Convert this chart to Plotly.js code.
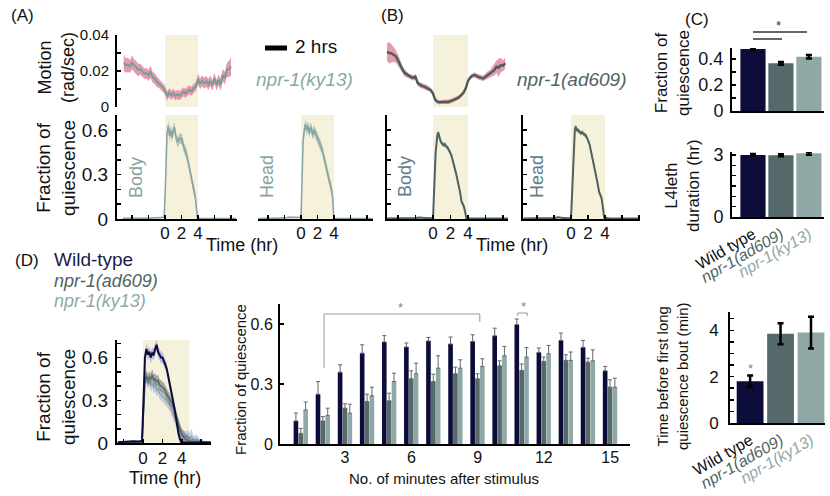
<!DOCTYPE html>
<html><head><meta charset="utf-8">
<script src="https://cdn.plot.ly/plotly-3.0.1.min.js"></script>
<style>body{margin:0;background:#fff}#chart{width:830px;height:496px}</style>
</head><body><div id="chart"></div>
<script>
// ---------- DATA ----------
// (A) motion, npr-1(ky13)
const motionA_t = [-5,-4.75,-4.5,-4.25,-4,-3.75,-3.5,-3.25,-3,-2.75,-2.5,-2.25,-2,-1.75,-1.5,-1.25,-1,-0.75,-0.5,-0.25,0,0.25,0.5,0.75,1,1.25,1.5,1.75,2,2.25,2.5,2.75,3,3.25,3.5,3.75,4,4.25,4.5,4.75,5,5.25,5.5,5.75,6,6.25,6.5,6.75,7,7.25,7.5,7.75,8];
const motionA_mean = [0.0245,0.0230,0.0235,0.0225,0.0248,0.0230,0.0222,0.0205,0.0210,0.0195,0.0185,0.0187,0.0175,0.0196,0.0165,0.0158,0.0140,0.0132,0.0120,0.0106,0.0095,0.0060,0.0080,0.0065,0.0076,0.0062,0.0070,0.0063,0.0072,0.0085,0.0075,0.0090,0.0094,0.0088,0.0105,0.0112,0.0155,0.0130,0.0145,0.0132,0.0142,0.0125,0.0145,0.0120,0.0160,0.0122,0.0150,0.0125,0.0178,0.0160,0.0206,0.0210,0.0225];
const motionA_sem = [0.0045,0.004,0.004,0.0035,0.004,0.0035,0.0035,0.0035,0.003,0.003,0.003,0.003,0.003,0.0035,0.003,0.003,0.003,0.0025,0.0025,0.0025,0.0025,0.0025,0.0025,0.0025,0.0025,0.0025,0.0025,0.0025,0.0025,0.0025,0.0025,0.0025,0.0025,0.0025,0.0025,0.0025,0.003,0.003,0.003,0.003,0.003,0.003,0.003,0.003,0.003,0.003,0.003,0.0035,0.0035,0.0035,0.004,0.0045,0.005];
// (B) motion, npr-1(ad609)
const motionB_t = [-5.25,-5,-4.75,-4.5,-4.25,-4,-3.75,-3.5,-3.25,-3,-2.75,-2.5,-2.25,-2,-1.75,-1.5,-1.25,-1,-0.75,-0.5,-0.25,0,0.25,0.5,0.75,1,1.25,1.5,1.75,2,2.25,2.5,2.75,3,3.25,3.5,3.75,4,4.25,4.5,4.75,5,5.25,5.5,5.75,6,6.25,6.5,6.75,7,7.25,7.5,7.75,8,8.25];
const motionB_mean = [0.0307,0.0300,0.0298,0.0290,0.0282,0.0260,0.0233,0.0210,0.0190,0.0182,0.0170,0.0166,0.0162,0.0168,0.0132,0.0124,0.0117,0.0113,0.0108,0.0102,0.0094,0.0075,0.0040,0.0030,0.0026,0.0028,0.0027,0.0029,0.0028,0.0032,0.0036,0.0042,0.0048,0.0055,0.0066,0.0080,0.0105,0.0145,0.0163,0.0174,0.0178,0.0170,0.0166,0.0162,0.0159,0.0168,0.0178,0.0184,0.0196,0.0205,0.0224,0.0218,0.0233,0.0230,0.0243];
const motionB_sem = [0.005,0.006,0.005,0.004,0.0035,0.003,0.0025,0.002,0.002,0.0018,0.0015,0.0015,0.0015,0.0015,0.0015,0.0015,0.0015,0.0015,0.0015,0.0015,0.0012,0.0012,0.0012,0.0012,0.0012,0.0012,0.0012,0.0012,0.0012,0.0012,0.0012,0.0012,0.0012,0.0012,0.0012,0.0012,0.0012,0.0012,0.0012,0.0012,0.0015,0.0015,0.0015,0.0015,0.0015,0.0018,0.002,0.002,0.0025,0.003,0.0035,0.005,0.004,0.003,0.003];
// (A) quiescence, body / head
const bodyA_t = [-5.1,-4,-3,-2,-1,-0.5,-0.1,0.1,0.25,0.4,0.55,0.7,0.85,1.0,1.15,1.3,1.45,1.6,1.75,1.9,2.05,2.2,2.35,2.5,2.65,2.8,2.95,3.1,3.25,3.4,3.55,3.7,3.85,3.95,4.5,5.5,6.5,7.5,8.6];
const bodyA_mean = [0.005,0.004,0.006,0.005,0.008,0.01,0.012,0.3,0.58,0.63,0.56,0.6,0.55,0.6,0.62,0.56,0.53,0.52,0.55,0.54,0.54,0.5,0.48,0.45,0.43,0.39,0.35,0.31,0.27,0.22,0.18,0.14,0.05,0.005,0.003,0.003,0.004,0.003,0.003];
const bodyA_sem = [0.004,0.004,0.004,0.004,0.004,0.004,0.004,0.03,0.035,0.035,0.035,0.035,0.035,0.035,0.035,0.035,0.035,0.035,0.035,0.035,0.035,0.035,0.035,0.035,0.035,0.035,0.035,0.035,0.035,0.035,0.035,0.035,0.035,0.01,0.003,0.003,0.003,0.003,0.003];
const headA_t = [-5.2,-4,-3,-2,-1.5,-1,-0.5,0,0.1,0.25,0.4,0.55,0.7,0.85,1.0,1.15,1.3,1.45,1.6,1.75,1.9,2.05,2.2,2.35,2.5,2.65,2.8,2.95,3.1,3.25,3.4,3.55,3.7,3.85,3.95,4.05,5,6,7,8.7];
const headA_mean = [0.003,0.004,0.003,0.006,0.012,0.01,0.008,0.01,0.2,0.52,0.6,0.64,0.6,0.63,0.58,0.62,0.6,0.57,0.6,0.58,0.56,0.55,0.52,0.5,0.48,0.45,0.41,0.37,0.34,0.3,0.27,0.23,0.2,0.14,0.03,0.004,0.003,0.004,0.003,0.003];
const headA_sem = [0.004,0.004,0.004,0.004,0.004,0.004,0.004,0.004,0.03,0.035,0.035,0.035,0.035,0.035,0.035,0.035,0.035,0.035,0.035,0.035,0.035,0.035,0.035,0.035,0.035,0.035,0.035,0.035,0.035,0.035,0.035,0.035,0.035,0.035,0.01,0.003,0.003,0.003,0.003,0.003];
// (B) quiescence, body / head
const bodyB_t = [-5.25,-4,-3,-2,-1.6,-1.3,-1,-0.5,0,0.1,0.3,0.5,0.6,0.75,0.9,1.05,1.2,1.35,1.5,1.65,1.8,1.95,2.1,2.3,2.5,2.7,2.9,3.1,3.25,3.4,3.55,3.7,3.8,4.5,6,7,8.55];
const bodyB_mean = [0.003,0.004,0.003,0.006,0.01,0.008,0.006,0.005,0.006,0.15,0.45,0.57,0.585,0.55,0.52,0.51,0.5,0.505,0.49,0.485,0.47,0.45,0.43,0.39,0.34,0.29,0.24,0.18,0.12,0.1,0.08,0.04,0.005,0.003,0.003,0.004,0.003];
const bodyB_sem = [0.003,0.003,0.003,0.003,0.003,0.003,0.003,0.003,0.003,0.015,0.015,0.015,0.015,0.015,0.015,0.015,0.015,0.015,0.015,0.015,0.015,0.015,0.015,0.015,0.015,0.015,0.015,0.015,0.015,0.015,0.015,0.015,0.005,0.003,0.003,0.003,0.003];
const headB_t = [-5.6,-4,-3,-2,-1.4,-1.2,-0.5,0,0.15,0.3,0.45,0.55,0.7,0.85,1.0,1.15,1.3,1.45,1.6,1.75,1.9,2.05,2.2,2.35,2.5,2.7,2.9,3.1,3.3,3.45,3.6,3.75,3.9,4.5,6,8.1];
const headB_mean = [0.003,0.003,0.004,0.006,0.012,0.008,0.005,0.006,0.2,0.45,0.6,0.625,0.6,0.6,0.59,0.58,0.585,0.575,0.57,0.565,0.55,0.525,0.5,0.46,0.42,0.37,0.32,0.25,0.185,0.16,0.14,0.08,0.01,0.003,0.003,0.003];
const headB_sem = [0.003,0.003,0.003,0.003,0.003,0.003,0.003,0.003,0.015,0.015,0.015,0.015,0.015,0.015,0.015,0.015,0.015,0.015,0.015,0.015,0.015,0.015,0.015,0.015,0.015,0.015,0.015,0.015,0.015,0.015,0.015,0.015,0.005,0.003,0.003,0.003];
// (C) bar charts
const strains = ['Wild type','npr-1(ad609)','npr-1(ky13)'];
const fracQ = [0.477,0.367,0.418];
const fracQ_err = [0.006,0.011,0.014];
const l4leth = [3.0,2.98,3.08];
const l4leth_err = [0.04,0.05,0.07];
const firstBout = [1.8,3.85,3.9];
const firstBout_err = [0.25,0.45,0.68];
// (D) time course
const dWT_t = [-2.6,-2,-1.5,-1,-0.5,-0.1,0.05,0.2,0.35,0.5,0.65,0.8,0.95,1.1,1.25,1.4,1.55,1.7,1.85,2.0,2.15,2.3,2.45,2.6,2.75,2.9,3.05,3.2,3.35,3.5,3.65,3.8,3.95,4.5,5.5,7];
const dWT_mean = [0.005,0.008,0.01,0.012,0.01,0.015,0.3,0.6,0.66,0.62,0.64,0.6,0.63,0.62,0.66,0.69,0.64,0.62,0.6,0.6,0.58,0.55,0.52,0.47,0.42,0.38,0.33,0.26,0.2,0.12,0.07,0.03,0.005,0.003,0.003,0.003];
const dWT_sem = [0.005,0.005,0.005,0.005,0.005,0.005,0.03,0.04,0.04,0.04,0.04,0.04,0.04,0.04,0.04,0.04,0.04,0.04,0.04,0.04,0.04,0.04,0.04,0.04,0.04,0.04,0.04,0.04,0.04,0.04,0.04,0.04,0.01,0.003,0.003,0.003];
const dAD_t = [-2.6,-1,-0.1,0.05,0.2,0.35,0.5,0.65,0.8,0.95,1.1,1.25,1.4,1.55,1.7,1.85,2.0,2.2,2.4,2.6,2.8,3.0,3.2,3.4,3.6,3.8,4.0,4.2,4.4,4.6,4.8,5.0,5.5,6,7];
const dAD_mean = [0.003,0.005,0.006,0.2,0.42,0.47,0.44,0.46,0.45,0.48,0.44,0.45,0.43,0.44,0.41,0.4,0.39,0.38,0.35,0.32,0.3,0.28,0.24,0.19,0.15,0.1,0.06,0.04,0.025,0.02,0.015,0.01,0.008,0.006,0.004];
const dAD_sem = [0.004,0.004,0.004,0.03,0.04,0.04,0.04,0.04,0.04,0.04,0.04,0.04,0.04,0.04,0.04,0.04,0.04,0.04,0.04,0.04,0.04,0.04,0.04,0.04,0.04,0.04,0.04,0.04,0.04,0.04,0.02,0.02,0.015,0.01,0.005];
const dKY_t = [-2.6,-1,-0.1,0.05,0.2,0.35,0.5,0.65,0.8,0.95,1.1,1.25,1.4,1.55,1.7,1.85,2.0,2.2,2.4,2.6,2.8,3.0,3.2,3.4,3.6,3.8,4.0,4.2,4.4,4.6,4.8,5.0,5.2,5.5,6,7];
const dKY_mean = [0.003,0.006,0.008,0.25,0.5,0.46,0.42,0.44,0.4,0.42,0.39,0.4,0.37,0.38,0.35,0.34,0.33,0.31,0.3,0.28,0.26,0.22,0.19,0.16,0.12,0.08,0.06,0.05,0.04,0.05,0.03,0.05,0.02,0.03,0.01,0.005];
const dKY_sem = [0.004,0.004,0.004,0.03,0.04,0.04,0.04,0.04,0.04,0.04,0.04,0.04,0.04,0.04,0.04,0.04,0.04,0.04,0.04,0.04,0.04,0.04,0.04,0.04,0.04,0.04,0.04,0.04,0.04,0.04,0.04,0.05,0.03,0.03,0.01,0.005];
// (D) per-minute bars
const minutes = [1,2,3,4,5,6,7,8,9,10,11,12,13,14,15];
const minWT = [0.115,0.249,0.359,0.454,0.51,0.485,0.515,0.5,0.513,0.541,0.597,0.458,0.518,0.483,0.366];
const minWT_err = [0.04,0.063,0.037,0.042,0.032,0.02,0.018,0.035,0.033,0.038,0.028,0.022,0.037,0.035,0.022];
const minAD = [0.053,0.115,0.179,0.212,0.216,0.326,0.312,0.351,0.326,0.391,0.368,0.413,0.418,0.409,0.284];
const minAD_err = [0.025,0.022,0.022,0.037,0.038,0.04,0.037,0.033,0.025,0.025,0.032,0.022,0.028,0.02,0.037];
const minKY = [0.17,0.142,0.154,0.241,0.312,0.351,0.379,0.379,0.388,0.441,0.434,0.451,0.418,0.416,0.284];
const minKY_err = [0.04,0.037,0.045,0.043,0.042,0.053,0.062,0.042,0.038,0.047,0.048,0.042,0.042,0.055,0.045];

// ---------- HELPERS ----------
const W = 830, H = 496;
const FONT = 'Liberation Sans, Arial, Helvetica, sans-serif';
const dx = (a,b) => [a/W, b/W];
const dy = (top,bot) => [1-bot/H, 1-top/H];
const px = x => x/W, py = y => 1-y/H;
const C_WT = '#0c0c3a', C_AD = '#55686a', C_KY = '#8fa8a6';
const SHADE = '#f6f1da';

function band(t, m, s, fill, xa, ya) {
  const up = m.map((v,i)=>v+s[i]);
  const lo = m.map((v,i)=>Math.max(0, v-s[i]));
  return [
    {x:t, y:up, xaxis:xa, yaxis:ya, mode:'lines', line:{width:0,color:fill}, hoverinfo:'skip'},
    {x:t, y:lo, xaxis:xa, yaxis:ya, mode:'lines', line:{width:0,color:fill}, fill:'tonexty', fillcolor:fill, hoverinfo:'skip'}
  ];
}
function line(t, m, color, w, xa, ya) {
  return {x:t, y:m, xaxis:xa, yaxis:ya, mode:'lines', line:{color:color, width:w}};
}

const traces = [];
traces.push(...band(motionA_t, motionA_mean, motionA_sem, 'rgba(226,138,158,0.85)', 'x', 'y'));
traces.push(line(motionA_t, motionA_mean, '#789c9a', 2, 'x', 'y'));
traces.push(...band(bodyA_t, bodyA_mean, bodyA_sem, 'rgba(138,166,165,0.6)', 'x2', 'y2'));
traces.push(line(bodyA_t, bodyA_mean, '#86a3a2', 1.5, 'x2', 'y2'));
traces.push(...band(headA_t, headA_mean, headA_sem, 'rgba(138,166,165,0.6)', 'x3', 'y3'));
traces.push(line(headA_t, headA_mean, '#86a3a2', 1.5, 'x3', 'y3'));
traces.push(...band(motionB_t, motionB_mean, motionB_sem, 'rgba(226,138,158,0.85)', 'x4', 'y4'));
traces.push(line(motionB_t, motionB_mean, '#4a5d5b', 2.4, 'x4', 'y4'));
traces.push(...band(bodyB_t, bodyB_mean, bodyB_sem, 'rgba(78,98,97,0.5)', 'x5', 'y5'));
traces.push(line(bodyB_t, bodyB_mean, '#4e6260', 2, 'x5', 'y5'));
traces.push(...band(headB_t, headB_mean, headB_sem, 'rgba(78,98,97,0.5)', 'x6', 'y6'));
traces.push(line(headB_t, headB_mean, '#4e6260', 2, 'x6', 'y6'));

const errStyle = {type:'data', color:'#000', thickness:2.5, width:3};
traces.push({type:'bar', x:strains, y:fracQ, width:0.9, marker:{color:[C_WT,C_AD,C_KY]},
  error_y:Object.assign({array:fracQ_err}, errStyle), xaxis:'x7', yaxis:'y7'});
traces.push({type:'bar', x:strains, y:l4leth, width:0.9, marker:{color:[C_WT,C_AD,C_KY]},
  error_y:Object.assign({array:l4leth_err}, errStyle), xaxis:'x8', yaxis:'y8'});
traces.push({type:'bar', x:strains, y:firstBout, width:0.88, marker:{color:[C_WT,C_AD,C_KY]},
  error_y:Object.assign({array:firstBout_err}, errStyle), xaxis:'x9', yaxis:'y9'});

traces.push(...band(dWT_t, dWT_mean, dWT_sem, 'rgba(165,160,232,0.65)', 'x10', 'y10'));
traces.push(...band(dKY_t, dKY_mean, dKY_sem, 'rgba(160,170,215,0.55)', 'x10', 'y10'));
traces.push(line(dKY_t, dKY_mean, '#8fa8a6', 1.5, 'x10', 'y10'));
traces.push(...band(dAD_t, dAD_mean, dAD_sem, 'rgba(90,110,108,0.55)', 'x10', 'y10'));
traces.push(line(dAD_t, dAD_mean, '#55686a', 1.5, 'x10', 'y10'));
traces.push(line(dWT_t, dWT_mean, '#0c0c3a', 2, 'x10', 'y10'));

const dErr = (arr) => ({type:'data', symmetric:false, array:arr, arrayminus:arr.map(()=>0), color:'#666', thickness:1, width:2});
traces.push({type:'bar', x:minutes, y:minWT, width:0.21, offset:-0.33, marker:{color:C_WT}, error_y:dErr(minWT_err), xaxis:'x11', yaxis:'y11'});
traces.push({type:'bar', x:minutes, y:minAD, width:0.21, offset:-0.11, marker:{color:C_AD}, error_y:dErr(minAD_err), xaxis:'x11', yaxis:'y11'});
traces.push({type:'bar', x:minutes, y:minKY, width:0.21, offset:0.11, marker:{color:C_KY}, error_y:dErr(minKY_err), xaxis:'x11', yaxis:'y11'});

// ---------- AXES ----------
const base = {showgrid:false, zeroline:false, fixedrange:true, linecolor:'#000', tickcolor:'#000', tickfont:{family:FONT, size:16, color:'#111'}};
function ax(o){ return Object.assign({}, base, o); }
const hourVals = [-4,-2,0,2,4,6,8];
const hourText = ['','','0','2','4','',''];
const qVals = [0,0.1,0.2,0.3,0.4,0.5,0.6,0.7];
const qText = ['0','','','0.3','','','0.6',''];
const strainText = ['Wild type','<span style="color:#4f6462"><i>npr-1(ad609)</i></span>','<span style="color:#8fa8a6"><i>npr-1(ky13)</i></span>'];
const hourAxis = (dom, rng, anchor) => ax({domain:dom, range:rng, anchor:anchor, showline:true, linewidth:2, ticks:'inside', ticklen:4, tickwidth:1.5,
    tickmode:'array', tickvals:hourVals, ticktext:hourText, tickfont:{family:FONT,size:17,color:'#111'}, ticklabelstandoff:-2});

const layout = {
  width:W, height:H, margin:{l:0,r:0,t:0,b:0},
  paper_bgcolor:'#fff', plot_bgcolor:'rgba(0,0,0,0)', showlegend:false,
  font:{family:FONT, color:'#111'}, barmode:'overlay',
  xaxis: ax({domain:dx(117,237), range:[-5.82,8.73], anchor:'y', visible:false}),
  yaxis: ax({domain:dy(35,107), range:[0,0.04], anchor:'x', showline:true, linewidth:2, ticks:'inside', ticklen:4, tickwidth:1.5,
    tickmode:'array', tickvals:[0,0.01,0.02,0.03,0.04], ticktext:['0','','0.02','','0.04'], tickfont:{family:FONT,size:15,color:'#111'}, ticklabelstandoff:3}),
  xaxis2: hourAxis(dx(117,237), [-5.82,8.73], 'y2'),
  yaxis2: ax({domain:dy(115,219), range:[0,0.703], anchor:'x2', showline:true, linewidth:2, ticks:'inside', ticklen:4, tickwidth:1.5,
    tickmode:'array', tickvals:qVals, ticktext:qText, tickfont:{family:FONT,size:19,color:'#111'}, ticklabelstandoff:3}),
  xaxis3: hourAxis(dx(258,373), [-5.21,8.73], 'y3'),
  yaxis3: ax({domain:dy(115,219), range:[0,0.703], anchor:'x3', visible:false}),
  xaxis4: ax({domain:dx(386,508), range:[-5.37,8.57], anchor:'y4', visible:false}),
  yaxis4: ax({domain:dy(35,107), range:[0,0.04], anchor:'x4', visible:false}),
  xaxis5: hourAxis(dx(387,508), [-5.26,8.57], 'y5'),
  yaxis5: ax({domain:dy(115,219), range:[0,0.703], anchor:'x5', showline:true, linewidth:2, ticks:'inside', ticklen:4, tickwidth:1.5,
    tickmode:'array', tickvals:qVals, showticklabels:false}),
  xaxis6: hourAxis(dx(523,640), [-5.65,8.12], 'y6'),
  yaxis6: ax({domain:dy(115,219), range:[0,0.703], anchor:'x6', showline:true, linewidth:2, ticks:'inside', ticklen:4, tickwidth:1.5,
    tickmode:'array', tickvals:qVals, showticklabels:false}),
  xaxis7: ax({domain:dx(732,824), type:'category', range:[-0.75,2.54], anchor:'y7', showline:true, linewidth:2, ticks:'', showticklabels:false}),
  yaxis7: ax({domain:dy(48,111), range:[0,0.485], anchor:'x7', showline:true, linewidth:2, ticks:'inside', ticklen:4, tickwidth:1.5,
    tickmode:'array', tickvals:[0,0.1,0.2,0.3,0.4], ticktext:['0','','0.2','','0.4'], tickfont:{family:FONT,size:18,color:'#111'}, ticklabelstandoff:3}),
  xaxis8: ax({domain:dx(732,824), type:'category', range:[-0.75,2.54], anchor:'y8', showline:true, linewidth:2, ticks:'',
    tickmode:'array', tickvals:strains, ticktext:strainText, tickangle:-30, tickfont:{family:FONT,size:16,color:'#111'}}),
  yaxis8: ax({domain:dy(152,217), range:[0,3.14], anchor:'x8', showline:true, linewidth:2, ticks:'inside', ticklen:4, tickwidth:1.5,
    tickmode:'array', tickvals:[0,0.5,1,1.5,2,2.5,3], ticktext:['0','','','','','','3'], tickfont:{family:FONT,size:18,color:'#111'}, ticklabelstandoff:3}),
  xaxis9: ax({domain:dx(730,825), type:'category', range:[-0.66,2.46], anchor:'y9', showline:true, linewidth:2, ticks:'',
    tickmode:'array', tickvals:strains, ticktext:strainText, tickangle:-30, tickfont:{family:FONT,size:16,color:'#111'}}),
  yaxis9: ax({domain:dy(312,423), range:[0,4.79], anchor:'x9', showline:true, linewidth:2, ticks:'inside', ticklen:4, tickwidth:1.5,
    tickmode:'array', tickvals:[0,0.5,1,1.5,2,2.5,3,3.5,4,4.5], ticktext:['0','','','','2','','','','4',''], tickfont:{family:FONT,size:17,color:'#111'}, ticklabelstandoff:6}),
  xaxis10: ax({domain:dx(117,211), range:[-2.68,7.01], anchor:'y10', showline:true, linewidth:2, ticks:'inside', ticklen:4, tickwidth:1.5,
    tickmode:'array', tickvals:[-2,0,2,4,6], ticktext:['','0','2','4',''], tickfont:{family:FONT,size:17,color:'#111'}, ticklabelstandoff:-1}),
  yaxis10: ax({domain:dy(340,443), range:[0,0.723], anchor:'x10', showline:true, linewidth:2, ticks:'inside', ticklen:4, tickwidth:1.5,
    tickmode:'array', tickvals:qVals, ticktext:qText, tickfont:{family:FONT,size:19,color:'#111'}, ticklabelstandoff:3}),
  xaxis11: ax({domain:dx(280,630), range:[0.054,15.9], anchor:'y11', showline:true, linewidth:2, ticks:'',
    tickmode:'array', tickvals:[3,6,9,12,15], tickfont:{family:FONT,size:16,color:'#111'}, ticklabelstandoff:-2}),
  yaxis11: ax({domain:dy(304,444), range:[0,0.70], anchor:'x11', showline:true, linewidth:2, ticks:'inside', ticklen:4, tickwidth:1.5,
    tickmode:'array', tickvals:[0,0.3,0.6], ticktext:['0','0.3','0.6'], tickfont:{family:FONT,size:16,color:'#111'}, ticklabelstandoff:2}),
};

// ---------- SHAPES ----------
const shapes = [];
[['x','y'],['x2','y2'],['x3','y3'],['x4','y4'],['x5','y5'],['x6','y6']].forEach(([xa,ya]) => {
  shapes.push({type:'rect', xref:xa, yref:ya+' domain', x0:0, x1:4, y0:0, y1:1, fillcolor:SHADE, line:{width:0}, layer:'below'});
});
shapes.push({type:'rect', xref:'x10', yref:'y10 domain', x0:0, x1:4.8, y0:0, y1:1, fillcolor:SHADE, line:{width:0}, layer:'below'});
shapes.push({type:'line', xref:'paper', yref:'paper', x0:px(265), x1:px(287), y0:py(48), y1:py(48), line:{color:'#000', width:5}});
shapes.push({type:'line', xref:'paper', yref:'paper', x0:px(753), x1:px(807), y0:py(32), y1:py(32), line:{color:'#333', width:1.5}});
shapes.push({type:'line', xref:'paper', yref:'paper', x0:px(753), x1:px(782), y0:py(39), y1:py(39), line:{color:'#333', width:1.5}});
shapes.push({type:'path', xref:'x11', yref:'y11', path:'M 2.05 0.38 L 2.05 0.65 L 9.1 0.65 L 9.1 0.61', line:{color:'#999', width:1}});
shapes.push({type:'path', xref:'x11', yref:'y11', path:'M 10.82 0.64 L 10.82 0.655 L 11.25 0.655 L 11.25 0.64', line:{color:'#999', width:1}});
layout.shapes = shapes;

// ---------- TEXT ----------
function T(text, x, y, o) {
  return Object.assign({text:text, xref:'paper', yref:'paper', x:px(x), y:py(y), showarrow:false,
    xanchor:'center', yanchor:'middle', font:{family:FONT, size:18, color:'#111'}}, o || {});
}
const f = (size, color) => ({family:FONT, size:size, color:color || '#111'});
layout.annotations = [
  T('(A)', 22, 16, {font:f(17)}),
  T('(B)', 392, 16, {font:f(17)}),
  T('(C)', 697, 20, {font:f(17)}),
  T('(D)', 27, 260, {font:f(17)}),
  T('Motion<br>(rad/sec)', 56, 68, {textangle:-90, font:f(18)}),
  T('Fraction of<br>quiescence', 56, 168, {textangle:-90, font:f(19)}),
  T('Body', 136, 178, {textangle:-90, font:f(18,'#86a3a4')}),
  T('Head', 267, 177, {textangle:-90, font:f(18,'#86a3a4')}),
  T('Body', 405, 177, {textangle:-90, font:f(18,'#5f7e87')}),
  T('Head', 537, 177, {textangle:-90, font:f(18,'#5f7e87')}),
  T('<i>npr-1(ky13)</i>', 304, 80, {font:f(19,'#8ba7a5')}),
  T('<i>npr-1(ad609)</i>', 572, 80, {font:f(19,'#4f6462')}),
  T('2 hrs', 293, 47, {xanchor:'left', font:f(19)}),
  T('Time (hr)', 242, 245, {font:f(18)}),
  T('Time (hr)', 512, 245, {font:f(18)}),
  T('Fraction of<br>quiescence', 672, 73, {textangle:-90, font:f(17)}),
  T('L4leth<br>duration (hr)', 682, 186, {textangle:-90, font:f(17)}),
  T('Time before first long<br>quiescence bout (min)', 672, 376, {textangle:-90, font:f(15)}),
  T('*', 778, 25, {font:f(13,'#333')}),
  T('*', 750, 368, {font:f(13,'#888')}),
  T('Wild-type', 52, 259, {xanchor:'left', font:f(19,'#1b1b4a')}),
  T('<i>npr-1(ad609)</i>', 52, 281, {xanchor:'left', font:f(18,'#4f6462')}),
  T('<i>npr-1(ky13)</i>', 52, 301, {xanchor:'left', font:f(18,'#8fa8a6')}),
  T('Fraction of<br>quiescence', 56, 397, {textangle:-90, font:f(19)}),
  T('Time (hr)', 165, 478, {font:f(18)}),
  T('Fraction of quiescence', 240, 380, {textangle:-90, font:f(15)}),
  T('No. of minutes after stimulus', 444, 478, {font:f(15)}),
  {text:'*', xref:'x11', yref:'y11', x:5.49, y:0.685, showarrow:false, font:f(13,'#888')},
  {text:'*', xref:'x11', yref:'y11', x:11.06, y:0.69, showarrow:false, font:f(13,'#888')}
];

Plotly.newPlot('chart', traces, layout, {displayModeBar:false, staticPlot:true});
</script>
</body></html>
